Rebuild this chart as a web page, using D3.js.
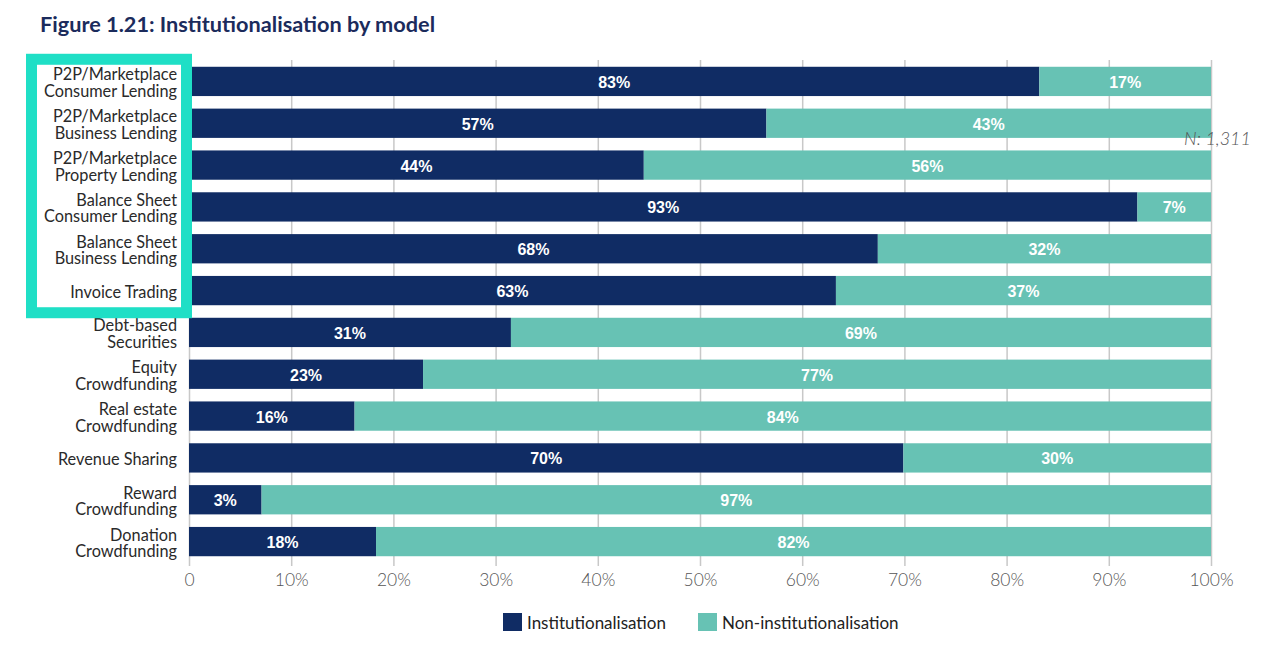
<!DOCTYPE html>
<html>
<head>
<meta charset="utf-8">
<script src="https://cdn.jsdelivr.net/npm/d3@7"></script>
<style>
  body { margin: 0; background: #fff; }
  svg { display: block; }
</style>
</head>
<body>
<div id="chart"></div>
<script>
// Data
const models = [
  ["P2P/Marketplace", "Consumer Lending"],
  ["P2P/Marketplace", "Business Lending"],
  ["P2P/Marketplace", "Property Lending"],
  ["Balance Sheet", "Consumer Lending"],
  ["Balance Sheet", "Business Lending"],
  ["Invoice Trading"],
  ["Debt-based", "Securities"],
  ["Equity", "Crowdfunding"],
  ["Real estate", "Crowdfunding"],
  ["Revenue Sharing"],
  ["Reward", "Crowdfunding"],
  ["Donation", "Crowdfunding"]
];
// bar lengths as drawn (the Reward bar is drawn at ~7% though labelled 3%)
const institutional = [83.2, 56.5, 44.5, 92.8, 67.4, 63.3, 31.5, 22.9, 16.2, 69.9, 7.1, 18.3];
const instLabels = ["83%", "57%", "44%", "93%", "68%", "63%", "31%", "23%", "16%", "70%", "3%", "18%"];
const nonInstLabels = ["17%", "43%", "56%", "7%", "32%", "37%", "69%", "77%", "84%", "30%", "97%", "82%"];
const highlighted = 6; // first six rows are boxed
const ticks = [0, 10, 20, 30, 40, 50, 60, 70, 80, 90, 100];
const seriesNames = ["Institutionalisation", "Non-institutionalisation"];

const W = 1280, H = 664;
const navy = "#102c64", teal = "#67c2b4", boxColor = "#1fdfc6";

const svg = d3.select("#chart").append("svg")
  .attr("width", W).attr("height", H);

// Title
svg.append("text")
  .attr("x", 40).attr("y", 32)
  .attr("font-family", "Lato, sans-serif")
  .attr("font-weight", 700)
  .attr("font-size", 21.7)
  .attr("fill", "#1b2b5c")
  .text("Figure 1.21: Institutionalisation by model");

const x = d3.scaleLinear().domain([0, 100]).range([189, 1211]);
const y = d3.scaleBand()
  .domain(d3.range(models.length))
  .range([60.5, 562.5])
  .paddingInner(0.3)
  .paddingOuter(0.15);

// Gridlines + tick labels
const axis = svg.append("g")
  .attr("transform", "translate(0,566)")
  .call(d3.axisBottom(x)
    .tickValues(ticks)
    .tickSize(506)
    .tickFormat(d => d === 0 ? "0" : d + "%"));
axis.select(".domain").remove();
axis.selectAll(".tick line")
  .attr("y1", -506).attr("y2", 0)
  .attr("stroke", "#c8c8c8").attr("stroke-width", 1.5);
axis.selectAll(".tick text")
  .attr("y", 20)
  .attr("dy", 0)
  .attr("font-family", "Lato, sans-serif")
  .attr("font-weight", 300)
  .attr("font-size", 17.5)
  .attr("fill", "#555");

// Bars
const rows = svg.append("g").selectAll("g")
  .data(models)
  .join("g")
  .attr("transform", (d, i) => `translate(0,${y(i)})`);

rows.append("rect")
  .attr("x", x(0))
  .attr("width", (d, i) => x(institutional[i]) - x(0))
  .attr("height", y.bandwidth())
  .attr("fill", navy);

rows.append("rect")
  .attr("x", (d, i) => x(institutional[i]))
  .attr("width", (d, i) => x(100) - x(institutional[i]))
  .attr("height", y.bandwidth())
  .attr("fill", teal);

const barText = sel => sel
  .attr("y", y.bandwidth() / 2 + 0.8)
  .attr("dy", "0.36em")
  .attr("text-anchor", "middle")
  .attr("font-family", "Liberation Sans, Arial, sans-serif")
  .attr("font-weight", 700)
  .attr("font-size", 16)
  .attr("fill", "#fff");

rows.append("text")
  .attr("x", (d, i) => (x(0) + x(institutional[i])) / 2)
  .call(barText)
  .text((d, i) => instLabels[i]);

rows.append("text")
  .attr("x", (d, i) => (x(institutional[i]) + x(100)) / 2)
  .call(barText)
  .text((d, i) => nonInstLabels[i]);

// Category labels
const labels = rows.append("text")
  .attr("text-anchor", "end")
  .attr("font-family", "Lato, sans-serif")
  .attr("font-size", 16.3)
  .attr("fill", "#2a2a2a");
labels.each(function(d) {
  const t = d3.select(this);
  const lh = 16.5;
  const top = y.bandwidth() / 2 + 1.5 - (d.length - 1) * lh / 2;
  d.forEach((line, j) => {
    t.append("tspan")
      .attr("x", 177)
      .attr("y", top + j * lh)
      .attr("dy", "0.35em")
      .text(line);
  });
});

// Highlight box around the first rows
const boxTop = y(0) - 7.5;
const boxBottom = y(highlighted - 1) + y.bandwidth() + 7.5;
svg.append("rect")
  .attr("x", 31.5).attr("y", boxTop)
  .attr("width", 155).attr("height", boxBottom - boxTop)
  .attr("fill", "none")
  .attr("stroke", boxColor)
  .attr("stroke-width", 11);

// Sample size
svg.append("text")
  .attr("x", 1184).attr("y", 145)
  .attr("font-family", "Lato, sans-serif")
  .attr("font-style", "italic")
  .attr("font-weight", 300)
  .attr("font-size", 18)
  .attr("fill", "#555")
  .text("N: 1,311");

// Legend
const legendX = [503, 698];
const legend = svg.append("g").selectAll("g")
  .data(seriesNames)
  .join("g")
  .attr("transform", (d, i) => `translate(${legendX[i]},613)`);
legend.append("rect")
  .attr("width", 19).attr("height", 18)
  .attr("fill", (d, i) => i === 0 ? navy : teal);
legend.append("text")
  .attr("x", 24).attr("y", 16)
  .attr("font-family", "Lato, sans-serif")
  .attr("font-size", 17)
  .attr("fill", "#222")
  .text(d => d);
</script>
</body>
</html>
